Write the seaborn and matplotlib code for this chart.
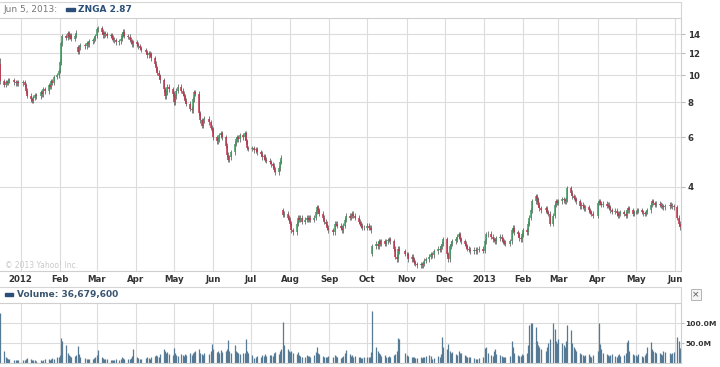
import numpy as np
import pandas as pd
import matplotlib
matplotlib.use("Agg")
import matplotlib.pyplot as plt
import matplotlib.dates as mdates
import matplotlib.ticker as mticker
from matplotlib.lines import Line2D
from matplotlib.patches import Rectangle
import seaborn as sns

# market holidays (incl. Sandy closure) between IPO and Jun 5 2013
holidays = ["2011-12-26", "2012-01-02", "2012-01-16", "2012-02-20", "2012-04-06",
            "2012-05-28", "2012-07-04", "2012-09-03", "2012-10-29", "2012-10-30",
            "2012-11-22", "2012-12-25", "2013-01-01", "2013-01-21", "2013-02-18",
            "2013-03-29", "2013-05-27"]

# daily closes (one line per month)
closes = [
    9.50, 9.25, 9.45, 9.40, 9.55, 9.60, 9.45, 9.35, 9.45, 9.36,
    9.45, 9.20, 8.80, 8.45, 8.20, 8.10, 8.30, 8.50, 8.40, 8.70, 8.55, 8.90, 8.75, 9.20, 9.10, 9.50, 9.40, 9.85, 10.00, 10.35,
    11.10, 13.00, 13.80, 13.60, 14.10, 13.70, 13.90, 13.50, 13.80, 14.20, 12.10, 12.60, 12.80, 12.70, 13.00, 12.90, 13.20, 13.30, 13.50, 13.80,
    14.60, 14.70, 14.30, 13.90, 14.10, 14.00, 13.80, 13.90, 13.60, 13.40, 13.30, 13.10, 13.20, 13.50, 14.00, 14.30, 13.80, 13.70, 13.40, 13.20, 12.90, 13.10,
    12.90, 12.70, 12.50, 12.30, 12.10, 11.80, 12.00, 11.90, 11.50, 11.00, 10.60, 10.20, 9.90, 9.60, 8.90, 8.40, 8.70, 9.10, 8.90, 8.60,
    8.00, 8.40, 8.80, 9.10, 8.80, 8.60, 8.40, 8.10, 7.90, 7.60, 7.50, 8.20, 8.70, 8.60, 7.30, 6.90, 6.60, 6.90, 7.00, 6.80, 6.50, 6.40,
    6.00, 5.80, 5.90, 6.10, 6.20, 6.00, 5.60, 5.20, 5.00, 5.10, 5.30, 5.70, 5.90, 6.00, 5.90, 6.10, 6.00, 6.20, 5.80, 5.50, 5.45,
    5.50, 5.40, 5.45, 5.30, 5.25, 5.10, 5.15, 5.00, 4.95, 4.90, 4.80, 4.75, 4.60, 4.50, 4.65, 4.90, 5.08, 3.17, 3.20, 3.10, 3.05,
    2.95, 2.80, 2.75, 2.95, 3.10, 3.05, 3.10, 3.00, 3.05, 3.10, 3.05, 3.10, 3.05, 3.10, 3.25, 3.38, 3.30, 3.20, 3.10, 3.00, 2.95, 2.85, 2.80,
    2.75, 2.95, 2.95, 2.90, 2.85, 2.80, 2.90, 3.05, 3.15, 3.10, 3.15, 3.20, 3.15, 3.10, 3.00, 2.95, 2.90, 2.85, 2.85,
    2.90, 2.85, 2.85, 2.80, 2.45, 2.50, 2.45, 2.55, 2.50, 2.55, 2.50, 2.55, 2.58, 2.60, 2.55, 2.40, 2.25, 2.20, 2.40, 2.35, 2.30,
    2.30, 2.20, 2.25, 2.20, 2.15, 2.12, 2.10, 2.12, 2.10, 2.12, 2.18, 2.20, 2.25, 2.30, 2.28, 2.35, 2.40, 2.38, 2.45, 2.50, 2.60,
    2.30, 2.20, 2.45, 2.50, 2.55, 2.60, 2.65, 2.70, 2.60, 2.55, 2.50, 2.45, 2.40, 2.38, 2.35, 2.38, 2.35, 2.38, 2.40, 2.36,
    2.55, 2.70, 2.72, 2.65, 2.60, 2.58, 2.55, 2.62, 2.65, 2.60, 2.55, 2.52, 2.50, 2.55, 2.80, 2.85, 2.75, 2.70, 2.62, 2.60, 2.70,
    2.80, 2.75, 2.95, 3.10, 3.30, 3.55, 3.70, 3.60, 3.45, 3.35, 3.30, 3.35, 3.25, 3.20, 2.95, 3.15, 3.45, 3.55, 3.50,
    3.55, 3.60, 3.58, 3.55, 3.60, 3.95, 3.80, 3.70, 3.65, 3.60, 3.55, 3.40, 3.45, 3.40, 3.35, 3.38, 3.30, 3.25, 3.20, 3.15,
    3.50, 3.55, 3.50, 3.45, 3.48, 3.42, 3.45, 3.38, 3.30, 3.25, 3.28, 3.22, 3.15, 3.20, 3.25, 3.20, 3.15, 3.30, 3.35, 3.30, 3.20, 3.25,
    3.25, 3.28, 3.30, 3.25, 3.22, 3.20, 3.25, 3.30, 3.45, 3.55, 3.50, 3.45, 3.48, 3.45, 3.42, 3.40, 3.38, 3.40, 3.45, 3.42, 3.40, 3.38,
    3.10, 2.95, 2.87,
]

# daily volume in millions
volumes_m = [
    125, 30, 15, 12, 10, 9, 8, 8, 7, 7,
    8, 7, 9, 12, 10, 8, 7, 8, 6, 7, 6, 8, 9, 10, 8, 9, 12, 11, 15, 14,
    20, 62, 55, 45, 25, 20, 18, 16, 17, 20, 42, 22, 15, 12, 10, 11, 9, 10, 12, 14,
    20, 32, 15, 12, 10, 9, 9, 8, 8, 7, 8, 9, 8, 10, 14, 12, 10, 9, 11, 12, 18, 35,
    15, 12, 11, 10, 13, 16, 12, 11, 14, 18, 20, 17, 16, 22, 35, 30, 25, 28, 22, 20,
    38, 25, 20, 18, 22, 20, 18, 22, 19, 24, 21, 25, 28, 30, 36, 25, 22, 20, 25, 23, 30, 48,
    35, 28, 30, 25, 32, 28, 30, 36, 57, 30, 25, 45, 30, 28, 25, 22, 24, 26, 60, 30, 25,
    20, 12, 15, 18, 16, 20, 18, 22, 17, 19, 21, 18, 25, 28, 22, 30, 35, 102, 45, 35, 30,
    28, 30, 25, 22, 27, 20, 18, 16, 15, 20, 17, 18, 15, 20, 28, 40, 25, 22, 18, 16, 15, 14, 17,
    15, 20, 18, 14, 12, 15, 18, 25, 32, 22, 18, 20, 16, 18, 15, 14, 13, 12, 14,
    15, 14, 16, 28, 130, 40, 30, 25, 22, 18, 20, 16, 15, 18, 14, 20, 22, 30, 62, 60, 25,
    20, 18, 15, 16, 14, 12, 13, 15, 12, 14, 16, 18, 20, 17, 10, 12, 18, 16, 22, 65, 40,
    35, 47, 30, 25, 28, 22, 20, 30, 24, 26, 20, 18, 16, 15, 14, 12, 10, 11, 13, 16,
    38, 40, 25, 20, 18, 30, 35, 22, 20, 18, 16, 15, 14, 18, 55, 40, 25, 20, 18, 17, 22,
    20, 25, 45, 95, 100, 100, 90, 55, 45, 40, 35, 30, 40, 50, 60, 100, 85, 55, 50,
    60, 50, 45, 40, 55, 95, 82, 50, 40, 35, 30, 25, 22, 20, 18, 20, 22, 18, 16, 20,
    30, 100, 47, 35, 25, 22, 20, 18, 20, 22, 18, 16, 20, 22, 18, 20, 25, 52, 57, 30, 22, 20,
    20, 18, 22, 18, 16, 20, 25, 40, 52, 35, 30, 28, 25, 24, 22, 20, 30, 28, 25, 22, 26, 28,
    65, 55, 36.68,
]

# opens that gap away from the previous close
gap_opens = {"2011-12-16": 11.00, "2012-02-15": 12.60,
             "2012-07-26": 3.30, "2012-10-05": 2.30}

price_ticks = [4, 6, 8, 10, 12, 14]
vol_ticks = [50e6, 100e6]
vol_labels = ["50.0M", "100.0M"]

days = pd.bdate_range("2011-12-16", "2013-06-05")
days = days[~days.isin(pd.to_datetime(holidays))]

df = pd.DataFrame({"date": days, "close": closes,
                   "volume": np.array(volumes_m) * 1e6})
df["open"] = df["close"].shift(1)
for d, o in gap_opens.items():
    df.loc[df["date"] == pd.Timestamp(d), "open"] = o
df["high"] = df[["open", "close"]].max(axis=1) * 1.02
df["low"] = df[["open", "close"]].min(axis=1) * 0.98
df.loc[0, "high"] = 11.50

up = df["close"] >= df["open"]
green, red = "#3b9a5c", "#c2304c"

sns.set_theme(style="white")
plt.rcParams["font.family"] = ["DejaVu Sans"]

W, H = 720, 367
fig = plt.figure(figsize=(7.2, 3.67), dpi=100)
ax = fig.add_axes([0, (H - 271) / H, 681 / W, 253 / H])
axv = fig.add_axes([0, (H - 363) / H, 681 / W, 60 / H], sharex=ax)

grid_c = "#dcdcdc"
x = mdates.date2num(df["date"])

# candles
ax.vlines(x, df["low"], df["high"], color="#4a4a4a", lw=0.5, zorder=3)
ax.vlines(x[up], df["open"][up], df["close"][up], color=green, lw=1.1, zorder=4)
ax.vlines(x[~up], df["open"][~up], df["close"][~up], color=red, lw=1.1, zorder=4)

ax.set_yscale("log")
ax.set_ylim(2.0, 16.0)
ax.yaxis.set_major_locator(mticker.FixedLocator(price_ticks))
ax.yaxis.set_major_formatter(mticker.FixedFormatter([str(t) for t in price_ticks]))
ax.yaxis.set_minor_locator(mticker.NullLocator())
ax.yaxis.tick_right()

x0 = mdates.date2num(pd.Timestamp("2011-12-15 15:00"))
x1 = mdates.date2num(pd.Timestamp("2013-06-05 20:00"))
ax.set_xlim(x0, x1)
ax.xaxis.set_major_locator(mdates.MonthLocator())
ax.xaxis.set_major_formatter(mticker.FuncFormatter(
    lambda v, p: mdates.num2date(v).strftime("%Y" if mdates.num2date(v).month == 1 else "%b")))

for a in (ax, axv):
    a.grid(True, color=grid_c, lw=0.8)
    a.set_axisbelow(True)
    for s in a.spines.values():
        s.set_color("#cfcfcf")
        s.set_linewidth(0.8)
    a.spines["left"].set_visible(False)
    a.tick_params(axis="y", which="major", right=True, length=3, width=0.8,
                  color="#bbbbbb", labelsize=6.2, labelcolor="#333333", pad=2)
    for lab in a.get_yticklabels():
        lab.set_fontweight("bold")

ax.tick_params(axis="x", length=0, labelsize=6.2, labelcolor="#333333", pad=3)
for lab in ax.get_xticklabels():
    lab.set_fontweight("bold")

# volume panel
axv.vlines(x, 0, df["volume"], color="#567a94", lw=0.9)
axv.set_ylim(0, 150e6)
axv.yaxis.set_major_locator(mticker.FixedLocator(vol_ticks))
axv.yaxis.set_major_formatter(mticker.FixedFormatter(vol_labels))
axv.yaxis.tick_right()
axv.tick_params(axis="y", labelsize=5.4, pad=1, length=2)
axv.tick_params(axis="x", labelbottom=False, length=0)
for lab in axv.get_yticklabels():
    lab.set_fontweight("bold")

# header boxes and labels
def fy(py):
    return 1 - py / H

for py in (2, 287):
    fig.add_artist(Line2D([0, 681 / W], [fy(py), fy(py)], color="#d5d5d5", lw=0.8))
fig.add_artist(Line2D([681 / W, 681 / W], [fy(2), fy(18)], color="#d5d5d5", lw=0.8))
fig.add_artist(Line2D([681 / W, 681 / W], [fy(287), fy(303)], color="#d5d5d5", lw=0.8))

fig.text(3 / W, fy(9.5), "Jun 5, 2013:", size=6.5, color="#777777", va="center")
fig.add_artist(Rectangle((66 / W, fy(11)), 9 / W, 3 / H, color="#2b4f78"))
fig.text(78 / W, fy(9.5), "ZNGA 2.87", size=6.5, color="#2b4f78",
         fontweight="bold", va="center")

fig.add_artist(Rectangle((5 / W, fy(295.5)), 8 / W, 3 / H, color="#2b4f78"))
fig.text(17 / W, fy(294), "Volume: 36,679,600", size=6.5, color="#3a5570",
         fontweight="bold", va="center")

fig.text(5 / W, fy(265), "\u00a9 2013 Yahoo! Inc.", size=5.5, color="#c9c9c9", va="center")
fig.text(696 / W, fy(294.5), "\u00d7", size=6.5, color="#555555", ha="center", va="center",
         bbox=dict(boxstyle="square,pad=0.15", fc="#f4f4f4", ec="#aaaaaa", lw=0.6))

fig.savefig("out.png", dpi=100)
